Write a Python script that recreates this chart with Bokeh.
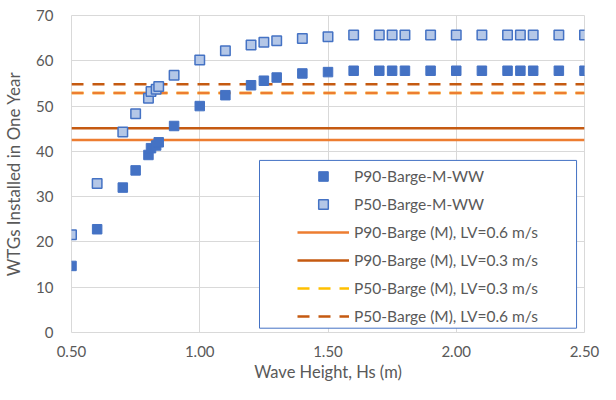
from bokeh.plotting import figure
from bokeh.models import (Range1d, FixedTicker, PrintfTickFormatter, Legend, LegendItem,
                          BoxAnnotation)
from bokeh.embed import file_html
from bokeh.resources import INLINE

# ---- data ----
hs = [0.5, 0.6, 0.7, 0.75, 0.8, 0.81, 0.83, 0.84, 0.9, 1.0, 1.1, 1.2, 1.25, 1.3, 1.4,
      1.5, 1.6, 1.7, 1.75, 1.8, 1.9, 2.0, 2.1, 2.2, 2.25, 2.3, 2.4, 2.5]
p90_ww = [14.7, 22.8, 32.0, 35.8, 39.2, 40.7, 41.3, 42.0, 45.6, 50.0, 52.4, 54.6, 55.6, 56.3,
          57.2, 57.5, 57.8, 57.8, 57.8, 57.8, 57.8, 57.8, 57.8, 57.8, 57.8, 57.8, 57.8, 57.8]
p50_ww = [21.6, 32.9, 44.3, 48.3, 51.7, 53.2, 53.7, 54.3, 56.8, 60.2, 62.2, 63.5, 64.1, 64.4,
          64.9, 65.3, 65.7, 65.7, 65.7, 65.7, 65.7, 65.7, 65.7, 65.7, 65.7, 65.7, 65.7, 65.7]

p90_lv06 = 42.5
p90_lv03 = 45.1
p50_lv03 = 52.9
p50_lv06 = 54.8
p50_lv03_overlay = 52.9

x_ticks = [0.5, 1.0, 1.5, 2.0, 2.5]
y_ticks = [0, 10, 20, 30, 40, 50, 60, 70]

TXT = "#595959"
FONT = "Lato"
GRID = "#D9D9D9"

p = figure(width=600, height=384, output_backend="svg", toolbar_location=None,
           x_range=Range1d(0.5, 2.5), y_range=Range1d(0, 70),
           min_border_left=68, min_border_right=16, min_border_top=15, min_border_bottom=48)

p.outline_line_color = GRID
p.background_fill_color = "white"
for ax in (p.xaxis[0], p.yaxis[0]):
    ax.axis_line_color = None
    ax.major_tick_line_color = None
    ax.minor_tick_line_color = None
    ax.major_label_text_color = TXT
    ax.major_label_text_font = FONT
    ax.major_label_text_font_size = "15px"
    ax.axis_label_text_color = TXT
    ax.axis_label_text_font = FONT
    ax.axis_label_text_font_style = "normal"

p.xaxis.axis_label_text_font_size = "16.5px"
p.yaxis.axis_label_text_font_size = "17px"
p.xaxis.ticker = FixedTicker(ticks=x_ticks)
p.xaxis.formatter = PrintfTickFormatter(format="%.2f")
p.yaxis.ticker = FixedTicker(ticks=y_ticks)
p.xaxis.axis_label = "Wave Height, Hs (m)"
p.yaxis.axis_label = "WTGs Installed in One Year"
p.xaxis.major_label_standoff = 7
p.yaxis.major_label_standoff = 12
p.xaxis.axis_label_standoff = 2
p.yaxis.axis_label_standoff = 9

p.xgrid.grid_line_color = GRID
p.ygrid.grid_line_color = GRID

x_span = [min(x_ticks), max(x_ticks)]
LW = 2.5
DASH = "12 9"

r_l1 = p.line(x_span, [p90_lv06] * 2, line_color="#ED7D31", line_width=LW)
r_l2 = p.line(x_span, [p90_lv03] * 2, line_color="#C55A11", line_width=LW)
r_l3 = p.line(x_span, [p50_lv03] * 2, line_color="#FFC000", line_width=LW, line_dash=DASH)
r_l4 = p.line(x_span, [p50_lv06] * 2, line_color="#C55A11", line_width=LW, line_dash=DASH)
p.line(x_span, [p50_lv03_overlay] * 2, line_color="#ED7D31", line_width=LW, line_dash=DASH)

r_p90 = p.scatter(hs, p90_ww, marker="square", size=9.5, fill_color="#4472C4",
                  line_color="#4472C4", line_width=1)
r_p50 = p.scatter(hs, p50_ww, marker="square", size=9.5, fill_color="#B4C7E7",
                  line_color="#4472C4", line_width=1.5)

box = BoxAnnotation(left=1.233, right=2.469, top=38.0, bottom=0.95,
                    fill_color="white", fill_alpha=1.0,
                    line_color="#4472C4", line_width=1, line_alpha=1.0)
p.add_layout(box)

legend = Legend(items=[
    LegendItem(label="P90-Barge-M-WW", renderers=[r_p90]),
    LegendItem(label="P50-Barge-M-WW", renderers=[r_p50]),
    LegendItem(label="P90-Barge (M), LV=0.6 m/s", renderers=[r_l1]),
    LegendItem(label="P90-Barge (M), LV=0.3 m/s", renderers=[r_l2]),
    LegendItem(label="P50-Barge (M), LV=0.3 m/s", renderers=[r_l3]),
    LegendItem(label="P50-Barge (M), LV=0.6 m/s", renderers=[r_l4]),
], location=(226, 4))
legend.margin = 0
legend.padding = 4
legend.spacing = 4
legend.glyph_width = 52
legend.glyph_height = 24
legend.label_height = 24
legend.label_standoff = 5
legend.label_text_font = FONT
legend.label_text_font_size = "15.5px"
legend.label_text_color = TXT
legend.border_line_color = None
legend.background_fill_alpha = 0
p.add_layout(legend)

open("out.html", "w").write(file_html(p, INLINE))
